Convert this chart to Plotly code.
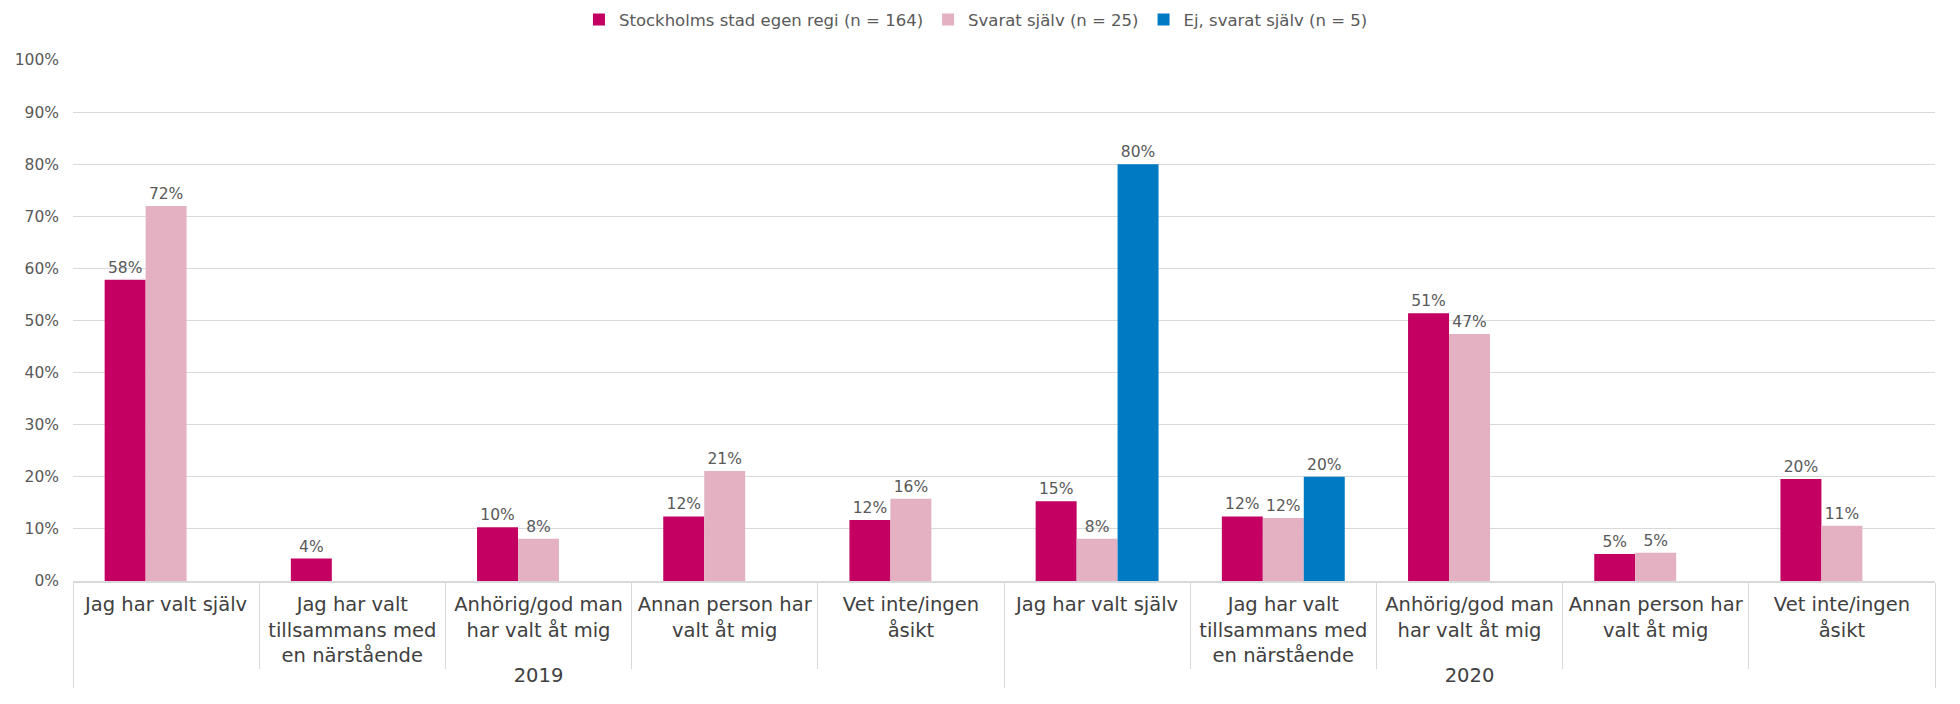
import plotly.graph_objects as go

years = ["2019"] * 5 + ["2020"] * 5
categories = [
    "Jag har valt själv",
    "Jag har valt<br>tillsammans med<br>en närstående",
    "Anhörig/god man<br>har valt åt mig",
    "Annan person har<br>valt åt mig",
    "Vet inte/ingen<br>åsikt",
] * 2

series_names = [
    "Stockholms stad egen regi (n = 164)",
    "Svarat själv (n = 25)",
    "Ej, svarat själv (n = 5)",
]
stockholm = [0.578, 0.043, 0.103, 0.124, 0.117, 0.153, 0.124, 0.514, 0.052, 0.196]
svarat_sjalv = [0.72, None, 0.081, 0.211, 0.158, 0.081, 0.121, 0.474, 0.054, 0.106]
ej_svarat = [None, None, None, None, None, 0.80, 0.20, None, None, None]
colors = ["#C40063", "#E3B1C2", "#007AC3"]

FONT = "DejaVu Sans, Verdana, sans-serif"
GRAY = "#595959"
DARK = "#404040"
GRID = "#D9D9D9"

# The page body has an 8px default margin, so the figure is drawn 8px smaller.
W, H = 1952, 696

fig = go.Figure()
for name, vals, col in zip(series_names, [stockholm, svarat_sjalv, ej_svarat], colors):
    fig.add_trace(go.Bar(
        x=[years, categories],
        y=vals,
        name=name,
        marker=dict(color=col, line=dict(width=0)),
        texttemplate="%{y:.0%}",
        textposition="outside",
        textfont=dict(size=15.5, color=GRAY, family=FONT),
        cliponaxis=False,
    ))

fig.update_layout(
    width=W, height=H,
    margin=dict(l=65, r=25, t=52, b=123, autoexpand=False),
    paper_bgcolor="white", plot_bgcolor="white",
    barmode="group", bargap=0.34, bargroupgap=0,
    font=dict(family=FONT, color=GRAY),
    legend=dict(
        orientation="h", xref="container", x=0.2925, xanchor="left",
        yref="container", y=0.983, yanchor="middle",
        font=dict(size=16.5, color=GRAY, family=FONT),
        traceorder="normal", itemclick=False,
    ),
    showlegend=True,
)
fig.update_yaxes(
    range=[0, 1], dtick=0.1, tickformat=".0%",
    showgrid=True, gridcolor=GRID, gridwidth=1,
    zeroline=False, showline=False, automargin=False,
    tickfont=dict(size=15.5, color=GRAY, family=FONT),
    ticks="", ticklabelstandoff=13,
)
fig.update_xaxes(
    type="multicategory", automargin=False,
    showline=True, linecolor=GRID, linewidth=2,
    ticks="outside", tickson="boundaries", ticklen=86, tickcolor=GRID, tickwidth=1,
    showdividers=True, dividercolor=GRID, dividerwidth=1,
    ticklabelstandoff=5,
    tickfont=dict(size=19.5, color=DARK, family=FONT),
)

fig.write_html("out.html")
